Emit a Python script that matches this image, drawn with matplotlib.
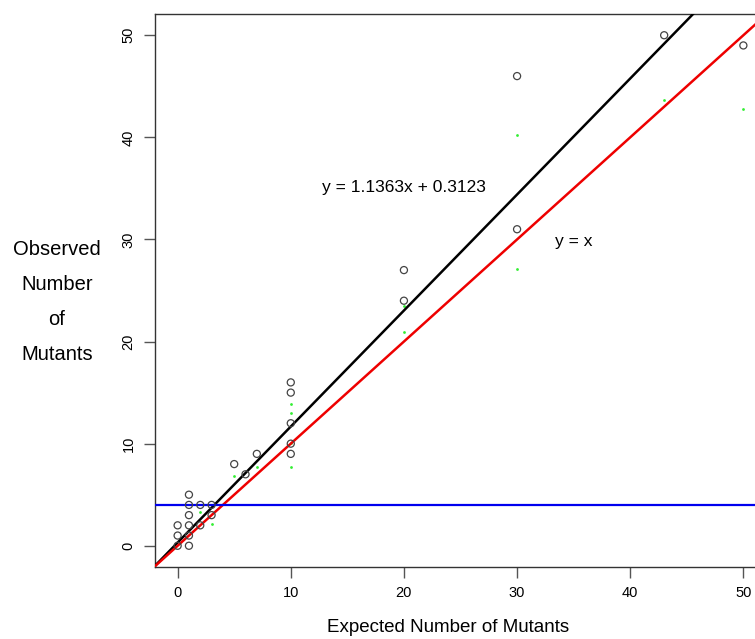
import numpy as np
import matplotlib.pyplot as plt

# observed vs expected counts (open circles)
expected = [0, 0, 0, 1, 1, 1, 1, 1, 1, 2, 2, 3, 3, 5, 6, 7,
            10, 10, 10, 10, 10, 20, 20, 30, 30, 43, 50]
observed = [0, 1, 2, 0, 1, 2, 3, 4, 5, 2, 4, 3, 4, 8, 7, 9,
            16, 15, 12, 10, 9, 27, 24, 46, 31, 50, 49]

# faint green marks
green_x = [2, 3, 5, 7, 10, 10, 10, 10, 20, 20, 30, 30, 43, 50]
green_y = [3.3, 2.1, 6.8, 7.7, 13.9, 13.0, 10.1, 7.7, 23.5, 20.9, 40.2, 27.1, 43.7, 42.8]

slope = 1.1363
intercept = 0.3123
threshold = 4

fig = plt.figure(figsize=(7.55, 6.39), dpi=100)
ax = fig.add_axes([155 / 755, 72 / 639, 611 / 755, 553 / 639])

xs = np.array([-2, 52])
ax.plot(xs, slope * xs + intercept, color='black', lw=1.8, zorder=3)
ax.plot(xs, xs, color='#ee0000', lw=1.8, zorder=3)
ax.axhline(threshold, color='#0000ee', lw=1.6, zorder=3)

ax.scatter(expected, observed, s=26, facecolors='none', edgecolors='#444444',
           linewidths=0.9, zorder=4)
ax.scatter(green_x, green_y, s=4, color='#33ee33', zorder=2, linewidths=0)

ax.text(20, 35.1, 'y = 1.1363x + 0.3123', fontsize=12.5, family='Liberation Sans',
        ha='center', va='center')
ax.text(35, 29.8, 'y = x', fontsize=12.5, family='Liberation Sans',
        ha='center', va='center')

ax.set_xlim(-2, 52)
ax.set_ylim(-2.08, 52.08)
ax.set_xticks(range(0, 51, 10))
ax.set_yticks(range(0, 51, 10))
ax.tick_params(length=8, width=1, color='#555555', labelsize=10.5, pad=6)
for lab in ax.get_xticklabels() + ax.get_yticklabels():
    lab.set_family('Liberation Sans')
for lab in ax.get_yticklabels():
    lab.set_rotation(90)
    lab.set_va('center')
for sp in ax.spines.values():
    sp.set_color('#333333')
    sp.set_linewidth(1)

fig.text(448 / 755, 1 - 627 / 639, 'Expected Number of Mutants', fontsize=13.5,
         family='Liberation Sans', ha='center', va='center')
fig.text(57 / 755, 1 - 302 / 639, 'Observed\nNumber\nof\nMutants', fontsize=14.5,
         family='Liberation Sans', ha='center', va='center', linespacing=2.05)

fig.savefig('out.png', dpi=100)
